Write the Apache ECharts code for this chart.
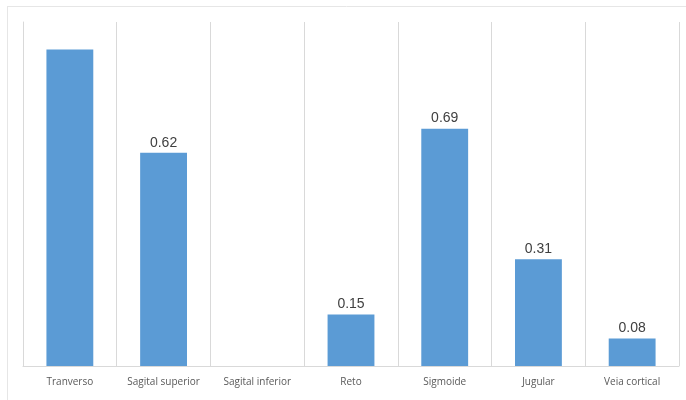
<!DOCTYPE html>
<html>
<head>
<meta charset="utf-8">
<script src="https://cdn.jsdelivr.net/npm/echarts@6/dist/echarts.min.js"></script>
<style>
    html, body { margin: 0; padding: 0; background: #fff; }
    #chart { width: 686px; height: 400px; }
</style>
</head>
<body>
<div id="chart"></div>
<script>
var categories = ['Tranverso', 'Sagital superior', 'Sagital inferior', 'Reto', 'Sigmoide', 'Jugular', 'Veia cortical']
var values = [0.92, 0.62, 0, 0.15, 0.69, 0.31, 0.08]
// labels that are visible in the picture
var showLabel = [false, true, false, true, true, true, true]

var lineColor = '#d9d9d9'
var fontColor = '#595959'

var data = []
for (var i = 0; i < values.length; i++) {
    data.push({
        value: values[i],
        label: { show: showLabel[i] }
    })
}

var myChart = echarts.init(document.getElementById('chart'))
var option = {
    animation: false,
    graphic: [
        { type: 'line', shape: { x1: 7, y1: 6.5, x2: 686, y2: 6.5 }, style: { stroke: '#e6e6e6', lineWidth: 1 } },
        { type: 'line', shape: { x1: 7.5, y1: 6, x2: 7.5, y2: 400 }, style: { stroke: '#e6e6e6', lineWidth: 1 } }
    ],
    grid: {
        left: 23,
        right: 7,
        top: 22,
        bottom: 34
    },
    xAxis: {
        type: 'category',
        data: categories,
        axisTick: { show: false },
        axisLine: { lineStyle: { color: lineColor } },
        axisLabel: {
            interval: 0,
            color: fontColor,
            fontSize: 10,
            fontFamily: 'Open Sans',
            margin: 11
        },
        splitLine: {
            show: true,
            interval: 0,
            lineStyle: { color: lineColor }
        }
    },
    yAxis: {
        type: 'value',
        min: 0,
        max: 1,
        axisLine: { show: true, lineStyle: { color: lineColor } },
        axisTick: { show: false },
        axisLabel: { show: false },
        splitLine: { show: false }
    },
    series: [{
        type: 'bar',
        barWidth: '50%',
        itemStyle: { color: '#5b9bd5' },
        label: {
            show: true,
            position: 'top',
            color: '#404040',
            fontSize: 14,
            fontFamily: 'Liberation Sans',
            distance: 3
        },
        data: data
    }]
}
myChart.setOption(option)
</script>
</body>
</html>
